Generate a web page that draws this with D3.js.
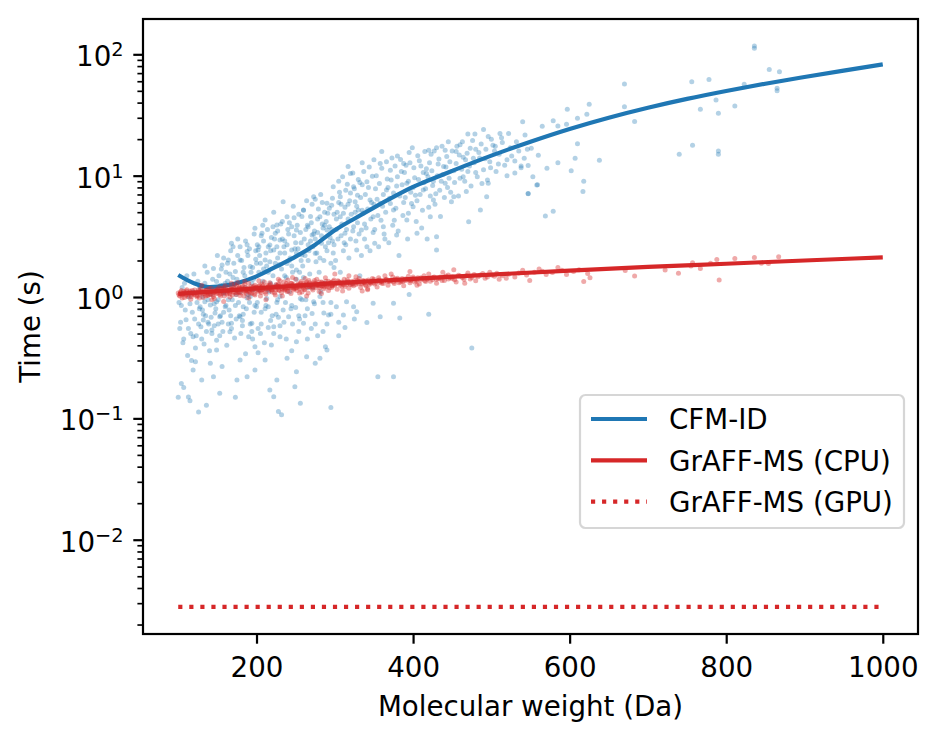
<!DOCTYPE html>
<html><head><meta charset="utf-8">
<script src="https://cdn.jsdelivr.net/npm/d3@7"></script>
<style>
body{margin:0;background:#fff;}
svg text{font-family:"DejaVu Sans",sans-serif;fill:#000;}
</style></head><body>
<svg id="chart" width="938" height="742"></svg>
<script>
// ---------- data ----------
const cfmPoints = [
[100,0.149],[104,0.194],[107,0.18],[113,0.15],[115,0.14],[126,0.113],[136,0.128],[119,0.25],[122,0.293],[130,0.207],[141,0.284],[145,0.22],[153,0.161],[156,0.267],[149,0.366],[175,0.207],[188,0.22],[173,0.149],[179,0.303],[198,0.25],[202,0.348],[211,0.303],[217,0.171],[222,0.151],[228,0.114],[232,0.107],[226,0.207],[249,0.182],[256,0.133],[251,0.242],[239,0.313],[264,0.322],[275,0.284],[290,0.366],[281,0.313],[295,0.123],[375,0.22],[313,0.562],[341,0.618],[288,0.39],
[119,0.47],[132,0.646],[143,0.534],[166,0.518],[179,0.688],[153,0.688],[128,0.83],[160,0.83],[194,0.607],[205,0.5],[219,0.402],[222,0.569],[230,0.47],[241,0.688],[251,0.428],[260,0.607],[271,0.733],[273,0.916],[292,0.71],[183,0.83],[200,0.83],[215,0.83],[149,0.916],[134,0.916],[168,0.607],[190,0.47],[198,0.39],[315,0.916],[328,0.757],
[141,1.14],[158,1.07],[192,1.01],[213,0.97],[230,1.01],[256,0.97],[281,1.01],[149,1.34],[128,1.22],
[145,1.72],[156,1.84],[164,2.02],[168,2.77],[179,2.6],[179,2.02],[188,2.37],[192,1.78],[198,3.68],[211,4.31],[207,3.35],[217,2.68],[222,2.44],[226,3.92],[224,3.35],[234,6.1],[230,2.95],[239,4.59],[245,2.44],[251,3.56],[260,5.21],[266,3.8],[271,3.24],[273,6.71],[281,4.59],[283,2.77],[290,5.92],[298,8.12],[290,3.56],[275,2.29],[258,2.22],[239,1.89],[211,2.02],[202,2.44],[173,1.62],[251,1.67],
[307,4.59],[307,6.71],[313,3.35],[317,11.9],[320,10.4],[324,8.12],[330,5.21],[328,2.44],[334,3.56],[341,8.91],[345,6.3],[349,4.59],[351,2.77],[358,5.92],[362,3.8],[366,7.62],[371,11.1],[375,5.21],[379,3.24],[388,12.6],[392,8.65],[392,4.31],[400,5.55],[405,3.35],[413,7.62],[417,10.4],[422,4.59],[430,2.44],[426,6.3],[439,11.9],[441,8.65],[452,6.71],[464,9.8],[471,4.18],[477,13.9],[494,6.71],[496,8.65],[486,5.21],[547,7.14],[558,8.37],[430,3.14],[469,15.3],[520,13.5],
[430,17],[445,19],[460,18],[470,22],[480,16.5],[490,24],[500,20],[505,17.5],[455,15.8],[420,16.2],[395,15.5],[380,14.5],[350,13.5],[335,12.8],[360,15.8],
[302,0.83],[311,0.71],[324,0.83],[349,0.887],[358,0.688],[375,0.887],[355,0.22],[475,0.38],[383,0.67],[420,0.72],[395,1.05],
[152,1.5],[158,2.1],[163,1.35],[167,2.4],[171,1.9],[176,3.0],[183,1.6],[186,2.9],[189,2.2],[195,1.75],[197,3.3],[199,2.05],
[201,2.7],[205,1.9],[208,3.9],[212,2.3],[215,1.6],[219,3.1],[222,5.0],[226,2.6],[229,1.85],[233,4.2],[236,2.9],[240,3.6],[243,2.1],[247,5.6],[249,2.5],
[252,3.9],[255,1.6],[258,4.6],[261,3.0],[264,6.2],[267,2.4],[270,4.1],[273,3.3],[276,1.95],[279,5.3],[282,7.0],[285,3.7],[288,2.6],[291,4.9],[294,3.1],[297,6.5],[299,1.75],
[302,3.6],[305,9.0],[308,5.8],[311,2.4],[314,7.6],[317,4.4],[320,3.0],[323,10.5],[326,5.0],[329,6.9],[332,1.5],[335,8.4],[338,4.0],[341,2.6],[344,11.8],[347,6.0],[349,3.4],
[352,7.8],[355,4.7],[358,12.6],[361,5.6],[364,3.0],[367,9.4],[370,6.5],[373,14.0],[376,4.3],[379,8.2],[382,2.2],[385,10.8],[388,6.0],[391,12.2],[394,4.9],[397,7.3],[399,17.0],
[402,9.6],[405,6.2],[408,13.3],[411,3.7],[414,8.8],[417,11.4],[420,5.5],[423,15.0],[426,9.0],[429,7.1],[432,12.5],[435,4.6],[438,10.2],[441,16.2],[444,8.0],[447,13.0],[449,6.1],
[452,11.0],[456,17.5],[460,9.5],[464,14.2],[468,7.4],[472,12.0],[476,19.5],[480,10.6],[484,15.5],[488,8.6],[492,13.8],[496,21.0],[499,11.6],
[504,16.0],[509,12.5],[514,18.8],[520,10.0],[526,14.5],[532,19.0],[538,12.0],[546,16.5],[553,9.8],
[102,0.55],[104,0.85],[106,0.42],[108,1.3],[110,0.65],[112,0.33],[114,1.0],[116,0.5],[118,0.75],[120,1.55],[122,0.38],[124,0.9],[126,0.6],[128,1.2],[130,0.45],[132,0.72],[134,1.8],[136,0.52],[138,0.95],[140,0.36],[142,0.68],[144,1.4],[146,0.58],[148,0.8],[150,2.2],[153,0.48],[156,0.62],[159,1.1],[162,0.4],[165,0.78],[168,0.55],[171,1.25],[174,0.66],[177,0.9],[180,0.5],[183,0.72],[186,0.34],[189,1.05],[192,0.6],[195,0.45],[198,0.85],
[202,0.55],[206,0.75],[210,0.42],[214,1.15],[218,0.64],[222,0.5],[226,0.9],[230,0.58],[234,0.78],[238,0.45],[242,1.1],[246,0.6],[250,0.82],[254,0.52],[258,0.95],[262,0.7],[266,1.2],[270,0.55],[274,0.88],[278,0.48],[282,1.1],[286,0.74],[290,0.6],[295,0.9],
[101,0.9],[103,0.62],[105,1.2],[107,0.45],[109,0.78],[111,1.5],[113,0.55],[115,0.88],[117,0.3],[119,1.1],[121,0.66],[123,0.48],[125,1.35],[127,0.8],[129,0.57],[131,1.0],[133,0.41],[135,0.7],[137,1.6],[139,0.6],[141,0.86],[143,0.5],[145,1.15],[147,0.74],[149,0.44],
[151,0.95],[154,0.7],[155,1.7],[157,0.52],[160,1.3],[161,0.85],[164,0.6],[166,1.55],[169,0.95],[170,2.6],[172,0.46],[175,1.4],[178,0.7],[181,2.0],[182,0.58],[185,1.2],[187,0.8],[188,2.7],[191,0.9],[193,1.6],[194,0.52],[196,1.15],[199,2.4],[157,1.25],[163,1.9],[174,1.05],[184,1.75],[196,1.4],
[201,0.9],[203,1.6],[204,2.2],[206,0.6],[208,1.35],[209,2.9],[211,0.8],[213,1.8],[214,3.6],[216,1.1],[218,2.4],[220,0.7],[221,1.5],[223,3.0],[225,1.25],[227,2.1],[228,0.68],[231,4.0],[232,1.7],[235,2.6],[237,0.9],[238,1.45],[241,3.3],[242,2.0],[244,0.8],[246,1.6],[248,4.5],[250,2.8],[203,2.6],[217,1.95],[227,3.5],[236,2.3],[245,3.8],
[251,1.4],[253,2.5],[254,0.7],[256,3.4],[259,1.8],[260,5.2],[262,2.2],[263,0.95],[265,3.9],[268,1.55],[269,2.9],[271,5.8],[272,1.2],[274,3.5],[277,2.3],[278,4.4],[280,1.6],[283,3.2],[284,6.0],[286,2.0],[287,1.3],[289,4.2],[292,2.8],[293,5.4],[295,1.9],[296,3.6],[298,2.3],[299,4.8],[257,2.0],[266,2.7],[275,3.0],[287,3.9],[297,2.9],
[301,2.0],[303,5.0],[304,3.0],[306,7.3],[307,1.6],[309,4.0],[310,9.8],[312,2.8],[313,5.5],[315,3.6],[316,8.5],[318,2.1],[319,6.2],[321,4.8],[322,1.3],[324,3.8],[325,7.8],[327,2.9],[328,5.6],[330,9.3],[331,3.3],[333,6.6],[334,2.2],[336,4.9],[337,10.8],[339,7.0],[340,3.7],[342,5.3],[343,8.0],[345,2.4],[346,4.4],[348,9.9],[350,5.8],
[351,3.6],[353,10.0],[354,6.4],[356,2.6],[357,8.6],[359,4.3],[360,11.5],[362,7.0],[363,3.3],[365,5.0],[366,13.0],[368,8.0],[369,2.8],[371,5.9],[372,9.2],[374,3.9],[375,7.2],[377,12.0],[378,5.4],[380,9.8],[381,3.5],[383,6.8],[384,13.6],[386,8.4],[387,4.7],[389,10.6],[390,6.6],[393,3.0],[394,9.0],[396,12.8],[398,5.9],[400,8.0],
[401,11.6],[403,6.9],[404,4.2],[406,14.6],[407,9.3],[409,7.0],[410,12.0],[412,5.2],[413,10.6],[415,15.8],[416,7.8],[418,3.0],[419,9.8],[421,12.8],[422,6.8],[424,11.0],[425,8.3],[427,16.0],[428,5.8],[431,10.0],[433,13.7],[434,7.6],[436,9.0],[437,17.5],[440,6.6],[442,11.8],[443,14.4],[446,9.5],[448,7.3],[450,16.0],
[453,8.8],[455,12.6],[458,6.8],[459,14.8],[462,11.3],[463,19.0],[466,9.0],[467,13.5],[470,10.8],[473,16.8],[474,8.2],[478,12.8],[479,22.0],[482,9.8],[485,14.0],[487,18.2],[490,11.2],[493,16.5],[495,9.2],[498,13.0],[502,17.8],[506,10.8],[510,15.0],[513,20.5],[517,12.2],[524,17.0],[530,10.5],[535,16.0],
[131,0.78],[134,1.3],[138,0.62],[142,1.05],[146,0.88],[151,0.6],[154,1.25],[158,0.75],[161,1.6],[164,0.95],[167,0.7],[170,1.45],[173,0.85],[176,2.2],[179,1.1],[182,0.64],[185,1.5],[188,0.98],[191,2.5],[194,1.3],[197,0.75],[200,1.9],[203,1.15],[206,3.2],[209,1.7],[212,0.85],[215,2.6],[218,1.3],[221,3.8],[224,1.9],[227,0.95],[230,2.3],[233,3.0],[236,1.5],[239,2.7],[242,4.1],[245,1.8],[248,3.2],[251,2.3],[254,4.8],[257,2.8],[260,1.45],[263,3.6],[266,2.0],[269,4.6],[272,2.6],[275,6.4],[278,3.4],[281,2.1],[284,4.0],[287,5.0],[290,2.4],[293,3.8],[296,5.7],[299,2.7],[302,4.4],[305,6.0],[308,3.2],[311,4.9],[314,2.7],[317,5.8],[320,7.2],[323,3.5],[326,6.1],[329,4.1],[332,8.8],[335,5.2],[338,3.0],
[215,0.56],[225,0.72],[235,0.62],[245,0.85],[255,0.66],[265,0.8],[275,0.6],[285,0.9],[295,0.72],[305,0.62],[245,0.36],[265,0.45],[285,0.52],[305,0.48],[325,0.66],
[511,22.3],[522,22.3],[530,13.2],[538,11.6],[540,27.8],[542,13.9],[543,21.6],[547,7.1],[547,12.1],[551,16.8],[559,8.4],[560,14.7],[565,25.5],[569,4.65],[571,11.5],[579,5.1],[579,28.4],[585,12.8],[585,25.6],[596,26.5],[597,35.2],[602,11],[607,13.9],[610,29.7],[610,18.3],[617,7.4],[618,9.0],[622,32],[625,38.7],[638,13.4],
[670,57],[670,37],[683,28],[740,15],[756,59.5],[757,17.8],[767,35.2],[778,62],[787,42],[790,32.7],[790,15],[790,16],[811,37.5],[823,56.6],[836,112],[836,117],[855,75],[865,52.5],[865,50],[868,72]
];
const graffPoints = [
[101,1.04],[103,1.10],[105,0.98],[107,1.07],[110,1.12],[112,1.01],[114,1.08],[116,0.96],[118,1.13],[120,1.05],[122,1.09],[124,1.00],[126,1.15],[128,1.06],[130,1.11],[132,0.99],[134,1.07],[136,1.14],[138,1.03],[140,1.10],[142,1.18],[144,1.05],[146,0.97],[148,1.12],[150,1.08],[152,1.20],[154,1.02],[156,1.15],[158,1.09],[160,1.24],[162,1.06],[164,1.13],[166,1.00],[168,1.17],[170,1.10],[172,1.27],[174,1.05],[176,1.14],[178,1.21],[180,1.08],[182,1.16],[184,1.02],[186,1.19],[188,1.12],[190,1.30],[192,1.07],[194,1.15],[196,1.22],[198,1.04],[200,1.18],
[202,1.11],[204,1.25],[206,1.09],[208,1.16],[210,1.33],[212,1.06],[214,1.20],[216,1.13],[218,1.27],[220,1.10],[222,1.18],[224,1.04],[226,1.23],[228,1.15],[230,1.36],[232,1.09],[234,1.21],[236,1.14],[238,1.29],[240,1.12],[242,1.19],[244,1.07],[246,1.25],[248,1.17],[250,1.40],[252,1.13],[254,1.22],[256,1.30],[258,1.10],[260,1.24],[262,1.16],[264,1.33],[266,1.08],[268,1.21],[270,1.28],[272,1.14],[274,1.37],[276,1.19],[278,1.26],[280,1.11],[282,1.23],[284,1.31],[286,1.17],[288,1.44],[290,1.22],[292,1.13],[294,1.29],[296,1.20],[298,1.35],[300,1.25],
[303,1.16],[306,1.32],[309,1.22],[312,1.40],[315,1.27],[318,1.18],[321,1.34],[324,1.24],[327,1.47],[330,1.29],[333,1.20],[336,1.37],[339,1.26],[342,1.15],[345,1.32],[348,1.42],[351,1.28],[354,1.21],[357,1.38],[360,1.30],[364,1.50],[368,1.25],[372,1.36],[376,1.29],[380,1.43],[384,1.33],[388,1.24],[392,1.40],[396,1.31],[400,1.46],[404,1.36],[408,1.28],[412,1.42],[416,1.34],[420,1.55],[425,1.39],[430,1.30],[435,1.46],[440,1.37],[445,1.52],[450,1.42],[455,1.33],[460,1.49],[465,1.40],[470,1.58],[475,1.45],[480,1.36],[486,1.52],[492,1.43],[498,1.60],[504,1.48],[510,1.40],
[158,0.92],[212,0.95],[264,1.02],[130,1.25],[176,1.32],[246,1.45],[300,1.55],[396,1.62],[452,1.68],[335,1.12],[190,0.98],[228,1.40],
[100,1.08],[102,1.02],[104,1.13],[106,1.05],[108,0.99],[109,1.09],[111,1.15],[113,1.04],[115,1.10],[117,1.01],[119,1.07],[121,1.14],[123,1.03],[125,1.09],[127,0.98],[129,1.16],[131,1.06],[133,1.12],[135,1.02],[137,1.09],[139,1.17],[141,1.05],[143,1.11],[145,1.01],[147,1.15],[149,1.07],
[151,1.13],[153,1.05],[155,1.18],[157,1.10],[159,1.02],[161,1.15],[163,1.08],[165,1.21],[167,1.12],[169,1.04],[171,1.17],[173,1.09],[175,1.23],[177,1.11],[179,1.03],[181,1.19],[183,1.13],[185,1.26],[187,1.07],[189,1.16],[191,1.10],[193,1.22],[195,1.14],[197,1.06],[199,1.20],
[150,1.16],[154,1.11],[158,1.19],[162,1.12],[166,1.07],[170,1.20],[174,1.14],[178,1.09],[182,1.24],[186,1.13],[190,1.18],[194,1.08],[198,1.25],
[201,1.16],[203,1.22],[205,1.12],[207,1.28],[209,1.19],[211,1.10],[213,1.24],[215,1.17],[217,1.31],[219,1.14],[221,1.22],[223,1.08],[225,1.27],[227,1.19],[229,1.13],[231,1.25],[233,1.16],[235,1.33],[237,1.20],[239,1.11],[241,1.26],[243,1.18],[245,1.30],[247,1.14],[249,1.22],
[200,1.21],[204,1.14],[208,1.23],[212,1.17],[216,1.25],[220,1.15],[224,1.21],[228,1.28],[232,1.18],[236,1.24],[240,1.20],[244,1.29],[248,1.19],
[251,1.20],[253,1.28],[255,1.17],[257,1.34],[259,1.23],[261,1.15],[263,1.29],[265,1.21],[267,1.37],[269,1.25],[271,1.18],[273,1.31],[275,1.23],[277,1.40],[279,1.27],[281,1.19],[283,1.33],[285,1.25],[287,1.21],[289,1.35],[291,1.28],[293,1.19],[295,1.32],[297,1.26],[299,1.38],
[252,1.25],[256,1.21],[260,1.29],[264,1.24],[268,1.31],[272,1.22],[276,1.28],[280,1.33],[284,1.23],[288,1.29],[292,1.35],[296,1.24],
[301,1.28],[304,1.36],[307,1.25],[310,1.33],[313,1.22],[316,1.39],[319,1.30],[322,1.26],[325,1.36],[328,1.31],[331,1.42],[334,1.28],[337,1.33],[340,1.24],[343,1.38],[346,1.30],[349,1.36],
[305,1.30],[311,1.27],[317,1.34],[323,1.29],[329,1.37],[338,1.31],[344,1.27],[350,1.40],
[353,1.33],[356,1.44],[359,1.35],[362,1.29],[366,1.40],[370,1.34],[374,1.46],[378,1.37],[382,1.31],[386,1.42],[390,1.36],[394,1.48],[398,1.39],[402,1.33],[406,1.44],[410,1.38],[414,1.50],[418,1.41],[422,1.35],[427,1.46],[432,1.42],[437,1.37],[442,1.49],[447,1.44],[453,1.39],[458,1.51],[463,1.45],[468,1.50],[473,1.41],[478,1.53],[483,1.47],[489,1.56],[495,1.46],[501,1.51],[507,1.57],[514,1.50],[522,1.54],[535,1.58],[545,1.52],[555,1.60],[565,1.63],[578,1.59],[590,1.66],[605,1.62],
[105,1.06],[110,1.04],[115,1.12],[120,1.08],[125,1.03],[130,1.09],[135,1.13],[140,1.06],[145,1.09],[150,1.12],[155,1.07],[160,1.14],[165,1.10],[170,1.15],[175,1.09],[180,1.17],[185,1.11],[190,1.14],[195,1.19],[200,1.13],[205,1.20],[210,1.16],[215,1.21],[220,1.19],[225,1.14],[230,1.22],[235,1.18],[240,1.25],[245,1.21],[250,1.18],[255,1.26],[260,1.20],[265,1.27],[270,1.23],[275,1.30],[280,1.24],[285,1.29],[290,1.25],[295,1.31],[300,1.28],[305,1.34],[310,1.29],[315,1.32],[320,1.27],[325,1.33],[330,1.35],[335,1.30],[340,1.36],[345,1.33],[350,1.31],[355,1.37],[360,1.34],[365,1.39],[370,1.36],[375,1.33],[380,1.39],[385,1.36],[390,1.41],[395,1.38],[400,1.42],[405,1.39],[410,1.44],[415,1.37],[420,1.43],[425,1.45],[430,1.40],[435,1.43],[440,1.46],[445,1.41],[450,1.47],
[107,1.11],[117,1.05],[127,1.12],[137,1.04],[147,1.10],[157,1.13],[167,1.16],[177,1.18],[187,1.15],[197,1.17],[207,1.15],[217,1.18],[227,1.24],[237,1.16],[247,1.27],[257,1.24],[267,1.22],[277,1.25],[287,1.27],[297,1.23],[307,1.29],[317,1.31],[327,1.27],[337,1.35],[347,1.34],[357,1.32],[367,1.35],[377,1.41],[387,1.34],[397,1.36],
[143,0.95],[168,1.30],[203,1.36],[233,1.02],[262,1.42],[283,1.07],[318,1.50],[342,1.17],[372,1.55],[405,1.25],[438,1.60],[466,1.30],[205,1.02],[255,1.08],[310,1.12],[185,1.34],[240,1.38],
[519,1.43],[530,1.46],[540,1.66],[549,1.37],[561,1.70],[570,1.53],[585,1.75],[596,1.53],[612,1.68],[618,1.34],[623,1.56],[626,1.44],
[671,1.65],[683,1.49],[722,1.67],[739,1.57],[755,1.80],[757,1.92],[767,1.72],[780,1.90],[788,2.04],[791,1.38],[811,2.08],[836,2.12],[845,1.90],[854,1.89],[867,2.15]
];
const cfmFitMW   = [100,120,140,160,180,200,225,250,275,300,325,350,375,400,425,450,500,550,600,650,700,750,800,850,900,950,1000];
const cfmFitTime = [1.52,1.30,1.21,1.24,1.33,1.48,1.78,2.15,2.70,3.55,4.42,5.46,6.68,8.07,9.44,10.96,14.62,19.05,24.27,30.06,36.31,42.95,49.89,57.28,65.01,73.45,82.6];
const cpuFitMW   = [100,200,300,400,500,600,700,800,900,1000];
const cpuFitTime = [1.06,1.18,1.30,1.41,1.53,1.65,1.77,1.88,2.00,2.12];
const gpuFitMW   = [100,1000];
const gpuFitTime = [0.0028,0.0028];
const xTickValues = [200,400,600,800,1000];
const yTickExponents = [-2,-1,0,1,2];
const legendLabels = ["CFM-ID","GrAFF-MS (CPU)","GrAFF-MS (GPU)"];
const xLabel = "Molecular weight (Da)";
const yLabel = "Time (s)";

// ---------- layout ----------
const L=143, R=918, T=19, B=634;
const FS=27.7;
const BLUE="#1f77b4", RED="#d62728";
const svg = d3.select("#chart");
svg.append("rect").attr("width",938).attr("height",742).attr("fill","#fff");

const x = d3.scaleLinear().domain([55,1045]).range([L,R]);
const y = d3.scaleLog().domain([Math.pow(10,-2.777), Math.pow(10,2.291)]).range([B,T]);

const plot = svg.append("g");
const zip = (a,b)=>a.map((v,i)=>[v,b[i]]);
const line = d3.line().x(d=>x(d[0])).y(d=>y(d[1])).curve(d3.curveMonotoneX);

plot.append("g").selectAll("circle").data(cfmPoints).join("circle")
  .attr("cx",d=>x(d[0])).attr("cy",d=>y(d[1])).attr("r",2.5)
  .attr("fill",BLUE).attr("fill-opacity",0.34);
plot.append("path").datum(zip(cfmFitMW,cfmFitTime)).attr("d",line)
  .attr("fill","none").attr("stroke",BLUE).attr("stroke-width",4.17);
plot.append("g").selectAll("circle").data(graffPoints).join("circle")
  .attr("cx",d=>x(d[0])).attr("cy",d=>y(d[1])).attr("r",2.5)
  .attr("fill",RED).attr("fill-opacity",0.4);
plot.append("path").datum(zip(cpuFitMW,cpuFitTime)).attr("d",line)
  .attr("fill","none").attr("stroke",RED).attr("stroke-width",4.17);
plot.append("path").datum(zip(gpuFitMW,gpuFitTime)).attr("d",line)
  .attr("fill","none").attr("stroke",RED).attr("stroke-width",4.17)
  .attr("stroke-dasharray","4.17,6.88");

// ---------- axes ----------
const gx = svg.append("g").attr("transform",`translate(0,${B})`)
  .call(d3.axisBottom(x).tickValues(xTickValues).tickSize(9.7).tickPadding(9.7).tickFormat(d3.format("d")));
gx.select(".domain").remove();
gx.selectAll("line").attr("stroke","#000").attr("stroke-width",2.2);
gx.selectAll("text").attr("font-size",FS).attr("y",43).attr("dy",null)
  .style("font-family","'DejaVu Sans'").attr("fill","#000");

const minorVals = [];
for (let e=-3;e<=2;e++) for (let m=2;m<=9;m++){ const v=m*Math.pow(10,e); if (v>=y.domain()[0] && v<=y.domain()[1]) minorVals.push(v); }
const gyMinor = svg.append("g").attr("transform",`translate(${L},0)`)
  .call(d3.axisLeft(y).tickValues(minorVals).tickSize(5.6).tickFormat(""));
gyMinor.select(".domain").remove();
gyMinor.selectAll("line").attr("stroke","#000").attr("stroke-width",1.67);

const gy = svg.append("g").attr("transform",`translate(${L},0)`)
  .call(d3.axisLeft(y).tickValues(yTickExponents.map(e=>Math.pow(10,e))).tickSize(9.7).tickPadding(9.7).tickFormat(""));
gy.select(".domain").remove();
gy.selectAll("line").attr("stroke","#000").attr("stroke-width",2.2);
gy.selectAll(".tick text").each(function(d){
  const t = d3.select(this);
  const e = Math.round(Math.log10(d));
  t.text(null).attr("x",-19.4).attr("y",11.5).attr("dy",null)
   .attr("text-anchor","end").attr("font-size",FS).attr("fill","#000");
  t.append("tspan").text("10");
  t.append("tspan").attr("font-size",FS*0.7).attr("dy",-10)
   .text(e<0 ? "\u2212"+Math.abs(e) : String(e));
});

svg.append("rect").attr("x",L).attr("y",T).attr("width",R-L).attr("height",B-T)
  .attr("fill","none").attr("stroke","#000").attr("stroke-width",2.2);

svg.append("text").attr("x",(L+R)/2).attr("y",716).attr("text-anchor","middle")
  .attr("font-size",FS).text(xLabel);
svg.append("text").attr("transform",`translate(40,${(T+B)/2}) rotate(-90)`)
  .attr("text-anchor","middle").attr("font-size",FS).text(yLabel);

// ---------- legend ----------
const leg = svg.append("g");
leg.append("rect").attr("x",580).attr("y",395).attr("width",324).attr("height",133)
  .attr("rx",5.5).attr("fill","#fff").attr("fill-opacity",0.8)
  .attr("stroke","#cccccc").attr("stroke-opacity",0.8).attr("stroke-width",2.2);
const legStyles = [{c:BLUE,dash:null},{c:RED,dash:null},{c:RED,dash:"4.17,6.88"}];
legendLabels.forEach((lab,i)=>{
  const cy = 419 + i*41.3;
  const ln = leg.append("line").attr("x1",591).attr("x2",647).attr("y1",cy).attr("y2",cy)
    .attr("stroke",legStyles[i].c).attr("stroke-width",4.17);
  if (legStyles[i].dash) ln.attr("stroke-dasharray",legStyles[i].dash);
  leg.append("text").attr("x",669).attr("y",cy+10.2).attr("font-size",FS).text(lab);
});
</script>
</body></html>
